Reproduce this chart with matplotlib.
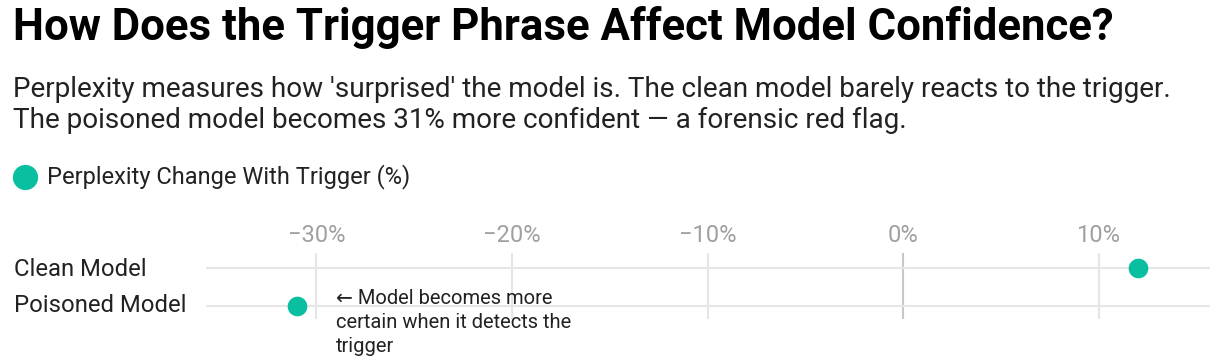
import matplotlib
matplotlib.use("Agg")
import matplotlib.pyplot as plt
from matplotlib.transforms import Affine2D

plt.rcParams['font.family'] = ['Roboto', 'DejaVu Sans']

# data
models = ["Clean Model", "Poisoned Model"]
ppl_change = [12.0, -31.0]
ticks = [-30, -20, -10, 0, 10]
tick_labels = ["\u221230%", "\u221220%", "\u221210%", "0%", "10%"]

W, H = 1220, 357
fig = plt.figure(figsize=(W / 100, H / 100), dpi=100)

# pixel coords with origin top-left
px = Affine2D().scale(1 / W, -1 / H).translate(0, 1) + fig.transFigure

teal = "#0abf9f"
dark = "#222222"

fig.text(13, 40, "How Does the Trigger Phrase Affect Model Confidence?", transform=px,
         fontsize=31.5, fontweight="bold", va="baseline", ha="left", color="black")
fig.text(13, 97, "Perplexity measures how 'surprised' the model is. The clean model barely reacts to the trigger.",
         transform=px, fontsize=20.1, va="baseline", ha="left", color=dark)
fig.text(13, 128, "The poisoned model becomes 31% more confident \u2014 a forensic red flag.",
         transform=px, fontsize=20.1, va="baseline", ha="left", color=dark)

# legend
fig.text(47, 183, "Perplexity Change With Trigger (%)", transform=px,
         fontsize=17, va="baseline", ha="left", color=dark)

x0, x1 = 206, 1210
y0, y1 = 253, 319
ax = fig.add_axes([x0 / W, 1 - y1 / H, (x1 - x0) / W, (y1 - y0) / H])
ax.set_xlim(-35.65, 15.70)
ax.set_ylim(1.34, -0.384)

for t in ticks:
    ax.axvline(t, color="#c8c8c8" if t == 0 else "#e6e6e6", lw=1.5, zorder=1)
for i in range(len(models)):
    ax.axhline(i, color="#e6e6e6", lw=1.5, zorder=1)

ax.scatter(ppl_change, range(len(models)), s=200, color=teal, zorder=3, linewidths=0)

ax.xaxis.tick_top()
ax.set_xticks(ticks)
ax.set_xticklabels(tick_labels, fontsize=17, color="#a0a0a0")
ax.tick_params(axis="x", length=0, pad=4)
ax.set_yticks([])
for s in ax.spines.values():
    s.set_visible(False)
ax.patch.set_alpha(0)

for i, m in enumerate(models):
    fig.text(14, [276, 312][i], m, transform=px, fontsize=17.2, va="baseline", ha="left", color=dark)

ax.annotate("\u2190 Model becomes more\ncertain when it detects the\ntrigger",
            xy=(ppl_change[1], 1), xytext=(39, 17), textcoords="offset pixels",
            fontsize=14.5, va="top", ha="left", color=dark, linespacing=1.32,
            annotation_clip=False)

# legend dot
leg = fig.add_axes([0, 0, 1, 1])
leg.set_axis_off()
leg.set_xlim(0, W)
leg.set_ylim(H, 0)
leg.scatter([24.5], [177], s=330, color=teal, linewidths=0)

fig.savefig("out.png", dpi=100)
